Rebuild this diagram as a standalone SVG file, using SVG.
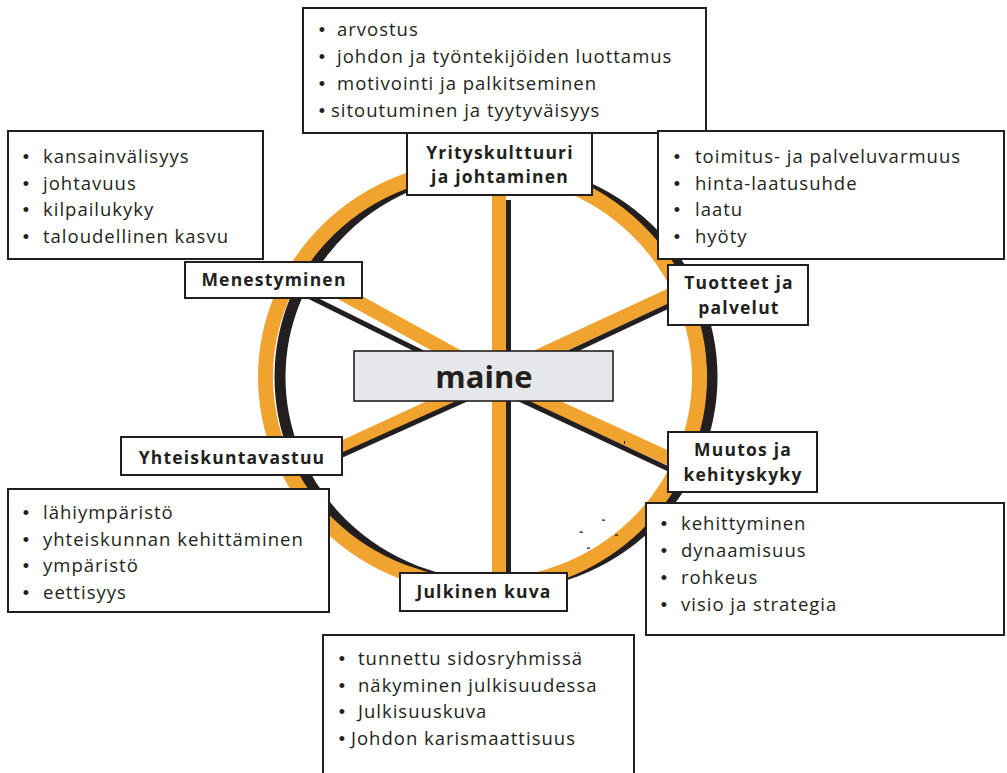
<svg xmlns="http://www.w3.org/2000/svg" width="1007" height="773" viewBox="0 0 1007 773">
  <defs>
    <style>
      .ring-k { fill: none; stroke: #231f20; stroke-width: 11; }
      .ring-o { fill: none; stroke: #f0a32e; stroke-width: 15; }
      .spoke-o { stroke: #f0a32e; stroke-width: 14; }
      .spoke-k { stroke: #231f20; stroke-width: 5; }
      .box { fill: #ffffff; stroke: #231f20; stroke-width: 2; }
      .hub { fill: #e6e7ea; stroke: #231f20; stroke-width: 1.6; }
      .list { font-family: "Open Sans", "Liberation Sans", sans-serif; font-size: 18.5px; letter-spacing: 1px; fill: #231f20; }
      .dot { font-family: "Liberation Sans", "Open Sans", sans-serif; font-size: 18px; fill: #231f20; text-anchor: middle; }
      .label { font-family: "Open Sans", "Liberation Sans", sans-serif; font-size: 17.5px; font-weight: bold; letter-spacing: 1.2px; fill: #231f20; text-anchor: middle; }
      .title { font-family: "Open Sans", "Liberation Sans", sans-serif; font-size: 31px; font-weight: bold; fill: #231f20; text-anchor: middle; }
      .speck { fill: #231f20; }
    </style>
  </defs>

  <!-- wheel rim: dark shadow ring under the orange ring -->
  <g id="wheel">
    <ellipse class="ring-k" cx="496" cy="377" rx="216" ry="209"/>
    <ellipse class="ring-o" cx="482.5" cy="377" rx="217" ry="209.5"/>
  </g>

  <!-- spokes from the hub to each factor -->
  <g id="connectors">
    <line class="spoke-o" x1="499" y1="190" x2="499" y2="580"/>
    <line class="spoke-k" x1="508.5" y1="200" x2="508.5" y2="580"/>

    <line class="spoke-o" x1="300" y1="270" x2="500" y2="380"/>
    <line class="spoke-k" x1="290" y1="287" x2="500" y2="391"/>

    <line class="spoke-o" x1="690" y1="286" x2="500" y2="374"/>
    <line class="spoke-k" x1="690" y1="296" x2="500" y2="385"/>

    <line class="spoke-o" x1="690" y1="468" x2="500" y2="381"/>
    <line class="spoke-k" x1="690" y1="479" x2="500" y2="390"/>

    <line class="spoke-o" x1="320" y1="458" x2="500" y2="375"/>
    <line class="spoke-k" x1="320" y1="465" x2="500" y2="384"/>
  </g>

  <!-- stray print marks -->
  <g id="marks">
    <rect class="speck" x="602" y="519.5" width="3" height="1.3"/>
    <rect class="speck" x="579.5" y="531.5" width="3.5" height="1.3"/>
    <rect class="speck" x="615" y="534.5" width="3" height="1.3"/>
    <rect class="speck" x="587" y="547.5" width="3" height="1.3"/>
    <rect class="speck" x="624" y="441" width="1" height="3"/>
  </g>

  <!-- hub -->
  <g id="maine">
    <rect class="hub" x="354" y="351" width="259" height="50"/>
    <text class="title" x="484" y="388">maine</text>
  </g>

  <!-- Yrityskulttuuri ja johtaminen -->
  <g id="yrityskulttuuri-list">
    <rect class="box" x="303" y="8" width="403" height="125"/>
    <text class="dot" x="322" y="36">•</text>
    <text class="list" x="337" y="36">arvostus</text>
    <text class="dot" x="322" y="63">•</text>
    <text class="list" x="337" y="63">johdon ja työntekijöiden luottamus</text>
    <text class="dot" x="322" y="90">•</text>
    <text class="list" x="337" y="90">motivointi ja palkitseminen</text>
    <text class="dot" x="322" y="117">•</text>
    <text class="list" x="331" y="117">sitoutuminen ja tyytyväisyys</text>
  </g>
  <g id="yrityskulttuuri">
    <rect class="box" x="407" y="133" width="185" height="62"/>
    <text class="label" x="500" y="159">Yrityskulttuuri</text>
    <text class="label" x="500" y="183">ja johtaminen</text>
  </g>

  <!-- Menestyminen -->
  <g id="menestyminen-list">
    <rect class="box" x="8" y="131" width="255" height="128"/>
    <text class="dot" x="26" y="163">•</text>
    <text class="list" x="43" y="163">kansainvälisyys</text>
    <text class="dot" x="26" y="190">•</text>
    <text class="list" x="43" y="190">johtavuus</text>
    <text class="dot" x="26" y="216">•</text>
    <text class="list" x="43" y="216">kilpailukyky</text>
    <text class="dot" x="26" y="243">•</text>
    <text class="list" x="43" y="243">taloudellinen kasvu</text>
  </g>
  <g id="menestyminen">
    <rect class="box" x="185" y="262" width="177" height="36"/>
    <text class="label" x="274" y="286">Menestyminen</text>
  </g>

  <!-- Tuotteet ja palvelut -->
  <g id="tuotteet-list">
    <rect class="box" x="658" y="131" width="346" height="128"/>
    <text class="dot" x="677" y="163">•</text>
    <text class="list" x="695" y="163">toimitus- ja palveluvarmuus</text>
    <text class="dot" x="677" y="190">•</text>
    <text class="list" x="695" y="190">hinta-laatusuhde</text>
    <text class="dot" x="677" y="216">•</text>
    <text class="list" x="695" y="216">laatu</text>
    <text class="dot" x="677" y="243">•</text>
    <text class="list" x="695" y="243">hyöty</text>
  </g>
  <g id="tuotteet">
    <rect class="box" x="668" y="265" width="140" height="60"/>
    <text class="label" x="739" y="289">Tuotteet ja</text>
    <text class="label" x="739" y="314">palvelut</text>
  </g>

  <!-- Yhteiskuntavastuu -->
  <g id="yhteiskuntavastuu-list">
    <rect class="box" x="8" y="489" width="321" height="123"/>
    <text class="dot" x="26" y="519">•</text>
    <text class="list" x="43" y="519">lähiympäristö</text>
    <text class="dot" x="26" y="546">•</text>
    <text class="list" x="43" y="546">yhteiskunnan kehittäminen</text>
    <text class="dot" x="26" y="572">•</text>
    <text class="list" x="43" y="572">ympäristö</text>
    <text class="dot" x="26" y="599">•</text>
    <text class="list" x="43" y="599">eettisyys</text>
  </g>
  <g id="yhteiskuntavastuu">
    <rect class="box" x="121" y="437" width="221" height="38"/>
    <text class="label" x="232" y="464">Yhteiskuntavastuu</text>
  </g>

  <!-- Muutos ja kehityskyky -->
  <g id="muutos-list">
    <rect class="box" x="646" y="503" width="358" height="132"/>
    <text class="dot" x="664" y="530">•</text>
    <text class="list" x="681" y="530">kehittyminen</text>
    <text class="dot" x="664" y="557">•</text>
    <text class="list" x="681" y="557">dynaamisuus</text>
    <text class="dot" x="664" y="584">•</text>
    <text class="list" x="681" y="584">rohkeus</text>
    <text class="dot" x="664" y="611">•</text>
    <text class="list" x="681" y="611">visio ja strategia</text>
  </g>
  <g id="muutos">
    <rect class="box" x="668" y="432" width="149" height="60"/>
    <text class="label" x="743" y="456">Muutos ja</text>
    <text class="label" x="743" y="481">kehityskyky</text>
  </g>

  <!-- Julkinen kuva -->
  <g id="julkinen-list">
    <rect class="box" x="323" y="635" width="311" height="150"/>
    <text class="dot" x="342" y="665">•</text>
    <text class="list" x="358" y="665">tunnettu sidosryhmissä</text>
    <text class="dot" x="342" y="692">•</text>
    <text class="list" x="358" y="692">näkyminen julkisuudessa</text>
    <text class="dot" x="342" y="718">•</text>
    <text class="list" x="358" y="718">Julkisuuskuva</text>
    <text class="dot" x="342" y="745">•</text>
    <text class="list" x="351" y="745">Johdon karismaattisuus</text>
  </g>
  <g id="julkinen">
    <rect class="box" x="400" y="573" width="167" height="38"/>
    <text class="label" x="484" y="598">Julkinen kuva</text>
  </g>
</svg>
